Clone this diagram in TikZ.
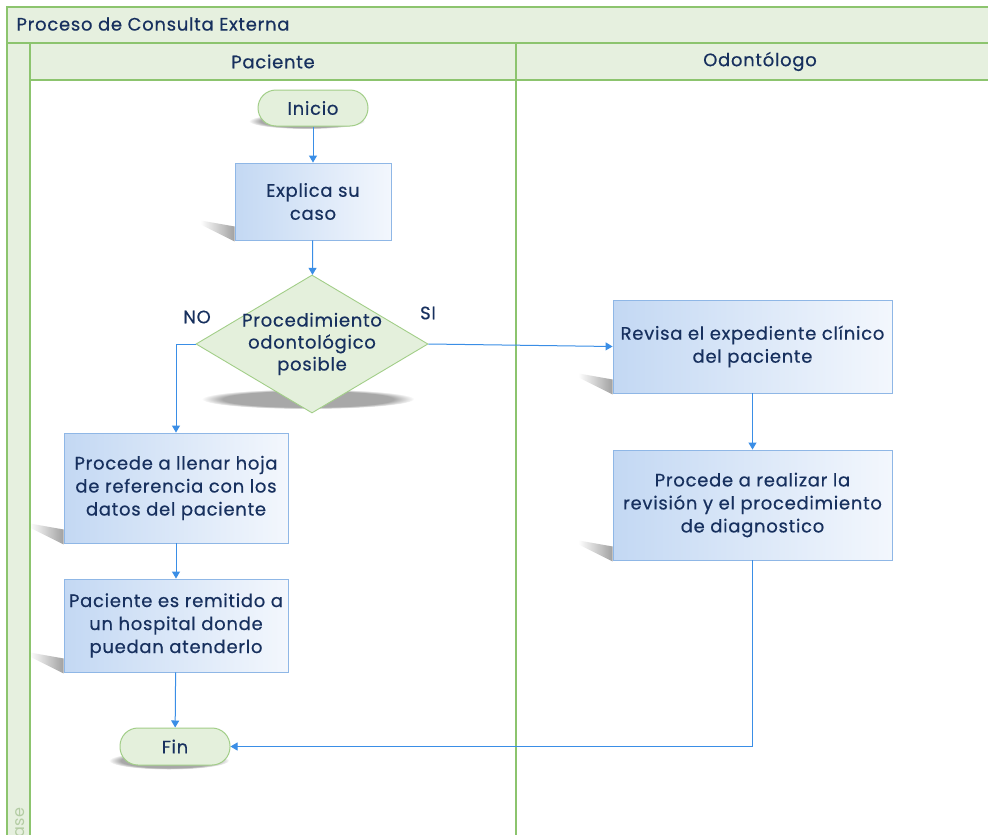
\documentclass[tikz,border=0pt]{standalone}
\usepackage{fontspec}
\setmainfont{Poppins}[LetterSpace=4,FakeBold=0.5]
\newfontfamily\lightfont{Poppins}[LetterSpace=4]
\usetikzlibrary{arrows.meta,shapes.geometric,fadings,calc}

\definecolor{poolline}{HTML}{8CC46E}
\definecolor{bandfill}{HTML}{E6F0DF}
\definecolor{txtnavy}{HTML}{17305E}
\definecolor{flowblue}{HTML}{3A8EE6}
\definecolor{boxline}{HTML}{8FB7E6}
\definecolor{boxleft}{HTML}{C3D8F3}
\definecolor{boxright}{HTML}{F3F7FD}
\definecolor{termfill}{HTML}{E4F0DC}
\definecolor{termline}{HTML}{A2CE88}
\definecolor{shadowgray}{HTML}{6E6E6E}
\definecolor{fasetxt}{HTML}{B3CCA3}

\pgfdeclarelayer{back}
\pgfdeclarelayer{shade}
\pgfsetlayers{back,shade,main}

\tikzfading[name=wedgefade, left color=transparent!100, right color=transparent!35]

\tikzset{
  lane/.style={draw=poolline, line width=1.1pt},
  lbl/.style={font=\fontsize{18}{20}\selectfont, text=txtnavy},
  proc/.style={draw=boxline, line width=0.9pt, left color=boxleft, right color=boxright,
    align=center, text=txtnavy, font=\fontsize{18}{23}\selectfont, inner sep=2pt},
  term/.style={draw=termline, line width=1pt, fill=termfill, rounded corners=18pt,
    minimum width=110pt, minimum height=36pt, text=txtnavy, font=\fontsize{18}{20}\selectfont},
  dec/.style={diamond, aspect=1.68, draw=termline, line width=0.9pt, fill=termfill,
    minimum width=232pt, minimum height=138pt, inner sep=-12pt, align=center,
    text=txtnavy, font=\fontsize{18}{22}\selectfont},
  flow/.style={draw=flowblue, line width=1pt, -{Triangle[length=7pt,width=8pt]}},
  wedge/.style={fill=shadowgray, path fading=wedgefade},
  blob/.style={fill=shadowgray, path fading=circle with fuzzy edge 20 percent, opacity=0.6}
}

\newcommand{\boxshadow}[1]{%
  \fill[wedge] ($(#1.south west)+(-34,-20)$) -- ($(#1.south west)+(0,-14)$)
    -- ($(#1.south west)+(0,1)$) -- ($(#1.south west)+(-34,-16)$) -- cycle;}

\begin{document}
\begin{tikzpicture}[x=1pt,y=-1pt]
\useasboundingbox (0,0) rectangle (988,835);
\clip (0,0) rectangle (988,835);

% pool and lanes
\begin{pgfonlayer}{back}
  \fill[white] (0,0) rectangle (988,835);
  \fill[bandfill] (7,7) rectangle (988,43);
  \fill[bandfill] (30,43) rectangle (988,80);
  \fill[bandfill] (7,43) rectangle (30,840);
  \draw[lane] (990,7) -- (7,7) -- (7,840);
  \draw[lane] (7,43) -- (990,43);
  \draw[lane] (30,80) -- (990,80);
  \draw[lane] (30,43) -- (30,840);
  \draw[lane] (516,43) -- (516,840);
  \node[lbl, anchor=west] (title) at (13,24) {Proceso de Consulta Externa};
  \node[lbl] (lanep) at (273,61.5) {Paciente};
  \node[lbl] (laneo) at (760,61.5) {Odontólogo};
  \node[rotate=90, anchor=east, text=fasetxt, font=\lightfont\fontsize{16}{18}\selectfont, inner sep=0pt] (fase) at (18.5,807) {Fase};
\end{pgfonlayer}

% steps
\node[term] (inicio) at (313,108) {Inicio};
\node[proc, minimum width=156pt, minimum height=77pt] (explica) at (313,201.5) {Explica su\\caso};
\node[dec] (dec) at (312,344) {Procedimiento\\odontológico\\posible};
\node[proc, minimum width=224pt, minimum height=110pt] (llenar) at (176,488)
  {Procede a llenar hoja\\de referencia con los\\datos del paciente};
\node[proc, minimum width=224pt, minimum height=93pt] (remit) at (176,625.5)
  {Paciente es remitido a\\un hospital donde\\puedan atenderlo};
\node[term, minimum height=37pt] (fin) at (175,746.5) {Fin};
\node[proc, minimum width=279pt, minimum height=93pt] (revisa) at (752.5,346.5)
  {Revisa el expediente clínico\\del paciente};
\node[proc, minimum width=279pt, minimum height=110pt] (realiza) at (752.5,505)
  {Procede a realizar la\\revisión y el procedimiento\\de diagnostico};

\node[lbl] (no) at (197,317) {NO};
\node[lbl] (si) at (428,313) {SI};

% soft shadows behind the shapes
\begin{pgfonlayer}{shade}
  \boxshadow{explica}
  \boxshadow{llenar}
  \boxshadow{remit}
  \boxshadow{revisa}
  \boxshadow{realiza}
  \fill[blob] (308,399) ellipse (106 and 10);
  \fill[blob] ($(inicio.center)+(-6,13)$) ellipse (58 and 8);
  \fill[blob] ($(fin.center)+(-6,14)$) ellipse (60 and 9);
\end{pgfonlayer}

% connectors
\draw[flow] (inicio) -- (explica);
\draw[flow] (explica) -- (dec);
\draw[flow] (dec.west) -| (llenar.north);
\draw[flow] (dec.east) -- (revisa.west);
\draw[flow] (llenar) -- (remit);
\draw[flow] (remit) -- (fin);
\draw[flow] (revisa) -- (realiza);
\draw[flow] (realiza.south) |- (fin.east);
\end{tikzpicture}
\end{document}
